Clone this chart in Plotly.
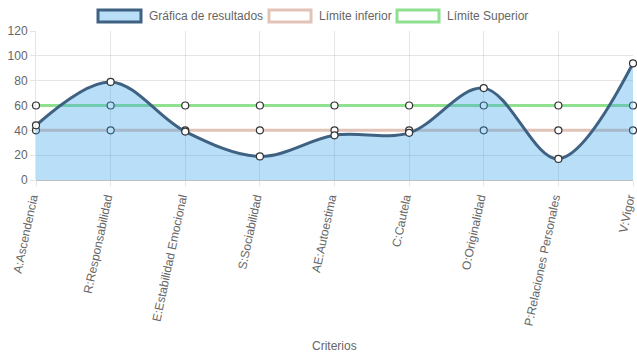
import plotly.graph_objects as go

categories = ["A:Ascendencia", "R:Responsabilidad", "E:Estabilidad Emocional", "S:Sociabilidad",
              "AE:Autoestima", "C:Cautela", "O:Originalidad", "P:Relaciones Personales", "V:Vigor"]
resultados = [44, 79, 39, 19, 36, 38, 74, 17, 94]
limite_inferior = [40, 40, 40, 40, 40, 40, 40, 40, 40]
limite_superior = [60, 60, 60, 60, 60, 60, 60, 60, 60]
y_ticks = [0, 20, 40, 60, 80, 100, 120]
series_names = ["Gráfica de resultados", "Límite inferior", "Límite Superior"]

C_MAIN = "#3f6283"
C_FILL = "rgba(54,162,235,0.35)"
C_LOW = "#e2c3b8"
C_UP = "#8fe08f"

fig = go.Figure()

marker = dict(size=7, color="white", line=dict(color="#333", width=1.2))

fig.add_trace(go.Scatter(x=categories, y=limite_inferior, mode="lines+markers", name=series_names[1],
                         line=dict(color=C_LOW, width=3), marker=marker, showlegend=False,
                         cliponaxis=False))
fig.add_trace(go.Scatter(x=categories, y=limite_superior, mode="lines+markers", name=series_names[2],
                         line=dict(color=C_UP, width=3), marker=marker, showlegend=False,
                         cliponaxis=False))
fig.add_trace(go.Scatter(x=categories, y=resultados, mode="lines+markers", fill="tozeroy",
                         name=series_names[0], fillcolor=C_FILL,
                         line=dict(color=C_MAIN, width=3, shape="spline", smoothing=1.0),
                         marker=marker, showlegend=False, cliponaxis=False))

W, H = 637, 359
ml, mr, mt, mb = 36, 4, 31, 179
pw, ph = W - ml - mr, H - mt - mb

def px(x):
    return (x - ml) / pw

def py(y):
    return (H - mb - y) / ph

# custom legend (box style like the original)
legend_items = [(98, 141, series_names[0], C_FILL, C_MAIN),
                (269, 311, series_names[1], "white", C_LOW),
                (397, 439, series_names[2], "white", C_UP)]
shapes = []
annotations = []
for x0, x1, name, fc, lc in legend_items:
    shapes.append(dict(type="rect", xref="paper", yref="paper", x0=px(x0), x1=px(x1),
                       y0=py(22), y1=py(10), fillcolor=fc, line=dict(color=lc, width=3)))
    annotations.append(dict(xref="paper", yref="paper", x=px(x1 + 6), y=py(16), text=name,
                            showarrow=False, xanchor="left", yanchor="middle",
                            font=dict(size=12, color="#666")))
annotations.append(dict(xref="paper", yref="paper", x=px(334), y=py(346), text="Criterios",
                        showarrow=False, xanchor="center", yanchor="middle",
                        font=dict(size=12, color="#666")))

fig.update_layout(
    width=W, height=H,
    margin=dict(l=ml, r=mr, t=mt, b=mb, autoexpand=False),
    paper_bgcolor="white", plot_bgcolor="white",
    font=dict(family="Liberation Sans, Arial, sans-serif", size=12, color="#666"),
    showlegend=False,
    shapes=shapes, annotations=annotations,
    xaxis=dict(range=[0, len(categories) - 1], tickangle=-78, showgrid=True, automargin=False,
               gridcolor="rgba(0,0,0,0.1)", showline=False, ticks="outside", ticklen=5,
               ticklabelshift=-4, ticklabelstandoff=0,
               tickcolor="rgba(0,0,0,0.1)", tickfont=dict(size=12, color="#666")),
    yaxis=dict(range=[0, 120], tickvals=y_ticks, showgrid=True, gridcolor="rgba(0,0,0,0.1)",
               automargin=False,
               zeroline=True, zerolinecolor="rgba(0,0,0,0.25)", zerolinewidth=1,
               ticks="outside", ticklen=5, tickcolor="rgba(0,0,0,0.1)",
               showline=True, linecolor="rgba(0,0,0,0.1)", tickfont=dict(size=12, color="#666")),
)

fig.write_html("out.html", config={"displayModeBar": False},
               post_script="document.body.style.margin='0';document.body.style.overflow='hidden';")
